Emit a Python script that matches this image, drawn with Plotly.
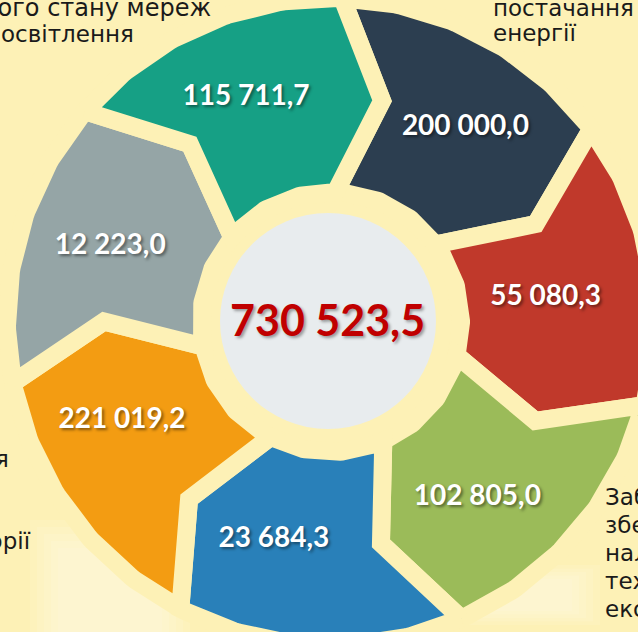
import math
import plotly.graph_objects as go

# ---- data -------------------------------------------------------------
values = [200000.0, 55080.3, 102805.0, 23684.3, 221019.2, 12223.0, 115711.7]
colors = ["#2C3E50", "#C0392B", "#9BBB59", "#2980B9", "#F39C12", "#95A5A6", "#16A085"]
total_value = 730523.5

side_texts_top_left = ["ічного стану мереж", "освітлення"]
side_texts_top_right = ["постачання", "енергії"]
side_texts_left = ["постачання", "категорії"]
side_texts_right = ["Забезпечення", "збереження", "належного", "технічного", "екологічного"]

# ---- style / geometry --------------------------------------------------
W, H = 638, 632
BG = "#FDF1B6"
CX, CY = 331, 322          # ring centre (pixels)
GAP = 18                   # yellow gap between arrows
R_OUT = 315 + GAP / 2
R_IN = 139 - GAP / 2
R_TIP = 227
TIP = 11                   # arrow tip angular offset (deg)
START = 2                  # first boundary (deg, clockwise from top)
CIRC_C = (328, 321)
CIRC_R = 108
# label placement tweaks per segment: (angle offset from mid, radius)
LABEL_POS = [(7, 236), (4.5, 216), (9.7, 229), (12.7, 225), (11.3, 231), (3.8, 233), (3, 240)]


def fmt(v):
    return f"{v:,.1f}".replace(",", " ").replace(".", ",")


def pt(theta, r):
    t = math.radians(theta)
    return CX + r * math.sin(t), CY - r * math.cos(t)


fig = go.Figure()
n = len(values)
step = 360.0 / n
lx, ly, lt = [], [], []
for i, (v, c) in enumerate(zip(values, colors)):
    a = START + i * step
    b = a + step
    xs, ys = [], []
    m = 60
    for k in range(m + 1):
        x, y = pt(a + (b - a) * k / m, R_OUT)
        xs.append(x); ys.append(y)
    x, y = pt(b + TIP, R_TIP); xs.append(x); ys.append(y)
    for k in range(m + 1):
        x, y = pt(b - (b - a) * k / m, R_IN)
        xs.append(x); ys.append(y)
    x, y = pt(a + TIP, R_TIP); xs.append(x); ys.append(y)
    xs.append(xs[0]); ys.append(ys[0])
    fig.add_trace(go.Scatter(x=xs, y=ys, mode="lines", fill="toself",
                             fillcolor=c, line=dict(color=BG, width=GAP),
                             hoverinfo="skip", showlegend=False))
    d, r = LABEL_POS[i]
    x, y = pt((a + b) / 2 + d, r)
    lx.append(x); ly.append(y); lt.append(fmt(v))

fig.add_trace(go.Scatter(x=lx, y=ly, mode="text", text=lt,
                         textfont=dict(family="Lato", size=28, color="white",
                                       weight="bold",
                                       shadow="2px 2px 3px rgba(0,0,0,0.45)"),
                         hoverinfo="skip", showlegend=False))

# faint, soft light patches of the background picture
for k in range(5):
    p = 7 * k
    fig.add_shape(type="rect", xref="x", yref="y", x0=30 + p, x1=190 - p,
                  y0=520 + p, y1=660, fillcolor="rgba(255,255,255,0.09)",
                  line=dict(width=0), layer="below")
    fig.add_shape(type="rect", xref="x", yref="y", x0=455 + p, x1=600 - p,
                  y0=565 + p / 2, y1=625 - p / 2, fillcolor="rgba(255,255,255,0.09)",
                  line=dict(width=0), layer="below")

fig.add_shape(type="circle", xref="x", yref="y",
              x0=CIRC_C[0] - CIRC_R, x1=CIRC_C[0] + CIRC_R,
              y0=CIRC_C[1] - CIRC_R, y1=CIRC_C[1] + CIRC_R,
              fillcolor="#E8ECEE", line=dict(width=0), layer="below")

fig.add_annotation(x=CIRC_C[0] - 1, y=CIRC_C[1] - 2, xref="x", yref="y",
                   text=fmt(total_value), showarrow=False,
                   font=dict(family="Lato", size=43, color="#C00000", weight="bold",
                             shadow="2px 2px 3px rgba(0,0,0,0.35)"))

side_font = dict(family="DejaVu Sans", size=23, color="#1A1A1A")
# top-left
fig.add_annotation(x=213, y=8, text=side_texts_top_left[0], xanchor="right",
                   showarrow=False, font=dict(side_font, size=24), xref="x", yref="y")
fig.add_annotation(x=136, y=34, text=side_texts_top_left[1], xanchor="right",
                   showarrow=False, font=side_font, xref="x", yref="y")
# top-right
fig.add_annotation(x=491, y=8, text=side_texts_top_right[0], xanchor="left",
                   showarrow=False, font=side_font, xref="x", yref="y")
fig.add_annotation(x=491, y=33, text=side_texts_top_right[1], xanchor="left",
                   showarrow=False, font=side_font, xref="x", yref="y")
# left
fig.add_annotation(x=11, y=459, text=side_texts_left[0], xanchor="right",
                   showarrow=False, font=side_font, xref="x", yref="y")
fig.add_annotation(x=33, y=541, text=side_texts_left[1], xanchor="right",
                   showarrow=False, font=side_font, xref="x", yref="y")
# right-bottom
for j, t in enumerate(side_texts_right):
    fig.add_annotation(x=603, y=497 + 28 * j, text=t, xanchor="left",
                       showarrow=False, font=side_font, xref="x", yref="y")

fig.update_layout(
    width=W, height=H, margin=dict(l=0, r=0, t=0, b=0),
    paper_bgcolor=BG, plot_bgcolor=BG,
    xaxis=dict(range=[0, W], visible=False, fixedrange=True),
    yaxis=dict(range=[H, 0], visible=False, fixedrange=True),
    showlegend=False,
)

fig.write_html(
    "out.html",
    config={"displayModeBar": False, "staticPlot": True},
    post_script="document.body.style.margin='0';document.body.style.overflow='hidden';"
                "document.body.style.background='" + BG + "';",
)
